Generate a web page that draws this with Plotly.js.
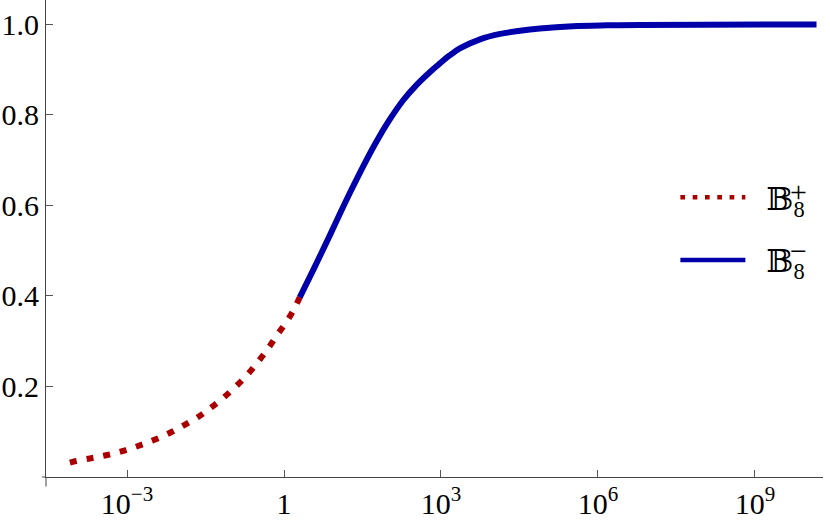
<!DOCTYPE html>
<html><head><meta charset="utf-8">
<script src="https://cdn.plot.ly/plotly-3.0.1.min.js"></script>
<style>html,body{margin:0;padding:0;background:#fff}</style>
</head><body><div id="chart" style="width:830px;height:524px"></div>
<script>
// B8+ branch (dotted red)
const plusX = [8.1e-5, 9.5e-5, 1.95e-4, 4.0e-4, 8.1e-4, 1.58e-3, 3.16e-3, 6.2e-3, 1.17e-2, 2.24e-2, 3.98e-2, 7.1e-2, 0.12, 0.2, 0.316, 0.49, 0.72, 1.1, 1.58, 2.0];
const plusY = [0.032, 0.034, 0.041, 0.048, 0.057, 0.068, 0.081, 0.096, 0.113, 0.132, 0.153, 0.176, 0.200, 0.226, 0.254, 0.283, 0.312, 0.342, 0.372, 0.397];
// B8- branch (solid blue)
const minusX = [2.0, 3.89, 7.59, 11.0, 18.2, 32.4, 58.9, 105, 191, 339, 617, 891, 1480, 2290, 5560, 13500, 32400, 77600, 3.3e5, 1.48e6, 6.3e6, 1e8, 1.5e10];
const minusY = [0.397, 0.465, 0.535, 0.575, 0.628, 0.686, 0.742, 0.790, 0.833, 0.866, 0.895, 0.911, 0.932, 0.947, 0.967, 0.979, 0.986, 0.991, 0.996, 0.998, 0.999, 0.9995, 1.0];
const xTickVals = [1e-3, 1, 1e3, 1e6, 1e9];
const xTickText = ['10<sup>\u22123</sup>', '1', '10<sup>3</sup>', '10<sup>6</sup>', '10<sup>9</sup>'];
const yTickVals = [0.2, 0.4, 0.6, 0.8, 1.0];
const yTickText = ['0.2', '0.4', '0.6', '0.8', '1.0'];
const legendBase = '\u00A0\u00A0\uD835\uDD39<sub>8</sub>';
const legendSup = ['+', '\u2212'];

const serif = 'Liberation Serif, Times New Roman, serif';
const legendFont = 'Liberation Serif, DejaVu Serif, DejaVu Sans, serif';
const red = 'rgb(170,0,0)', blue = 'rgb(0,0,170)';
const traces = [
  {x: plusX, y: plusY, mode: 'lines', showlegend: false,
   line: {color: red, width: 6, dash: '7px,10px', shape: 'spline'}},
  {x: minusX, y: minusY, mode: 'lines', showlegend: false,
   line: {color: blue, width: 6, shape: 'spline'}},
  // legend keys only (no data)
  {x: [null], y: [null], mode: 'lines', name: legendBase, legendgroup: 'p',
   line: {color: red, width: 4.5, dash: '4.7px,7.6px'}},
  {x: [null], y: [null], mode: 'lines', name: legendBase, legendgroup: 'm',
   line: {color: blue, width: 4.5}}
];
const layout = {
  width: 830, height: 524,
  margin: {l: 46, r: 7, t: 0, b: 46.5},
  paper_bgcolor: '#fff', plot_bgcolor: '#fff',
  showlegend: true,
  legend: {x: 0.81, xanchor: 'left', y: 0.6436, yanchor: 'top', bgcolor: 'rgba(0,0,0,0)',
    font: {family: legendFont, size: 32, color: '#000'}, itemwidth: 65,
    traceorder: 'grouped', tracegroupgap: 18},
  xaxis: {type: 'log', range: [-4.548, 10.30], tickmode: 'array', tickvals: xTickVals, ticktext: xTickText,
    ticks: 'inside', ticklen: 7, tickcolor: '#555', tickwidth: 1,
    showline: true, linecolor: '#444', linewidth: 1, showgrid: false, zeroline: false,
    tickfont: {family: serif, size: 30, color: '#000'}},
  yaxis: {range: [0, 1.054], tickmode: 'array', tickvals: yTickVals, ticktext: yTickText,
    ticks: 'inside', ticklen: 7, tickcolor: '#555', tickwidth: 1,
    showline: true, linecolor: '#444', linewidth: 1, showgrid: false, zeroline: false,
    tickfont: {family: serif, size: 30, color: '#000'}},
  annotations: [
    {xref: 'paper', yref: 'paper', x: 0.968, y: 0.598, text: legendSup[0], showarrow: false,
     xanchor: 'center', yanchor: 'middle', font: {family: serif, size: 30, color: '#000'}},
    {xref: 'paper', yref: 'paper', x: 0.968, y: 0.4754, text: legendSup[1], showarrow: false,
     xanchor: 'center', yanchor: 'middle', font: {family: serif, size: 30, color: '#000'}}
  ],
  shapes: [
    {type: 'line', xref: 'paper', yref: 'paper', x0: -0.005, x1: 0, y0: 0, y1: 0, line: {color: '#444', width: 1}},
    {type: 'line', xref: 'paper', yref: 'paper', x0: 0, x1: 0, y0: 0, y1: -0.02, line: {color: '#444', width: 1}}
  ]
};
Plotly.newPlot('chart', traces, layout, {displayModeBar: false, staticPlot: true});
</script></body></html>
